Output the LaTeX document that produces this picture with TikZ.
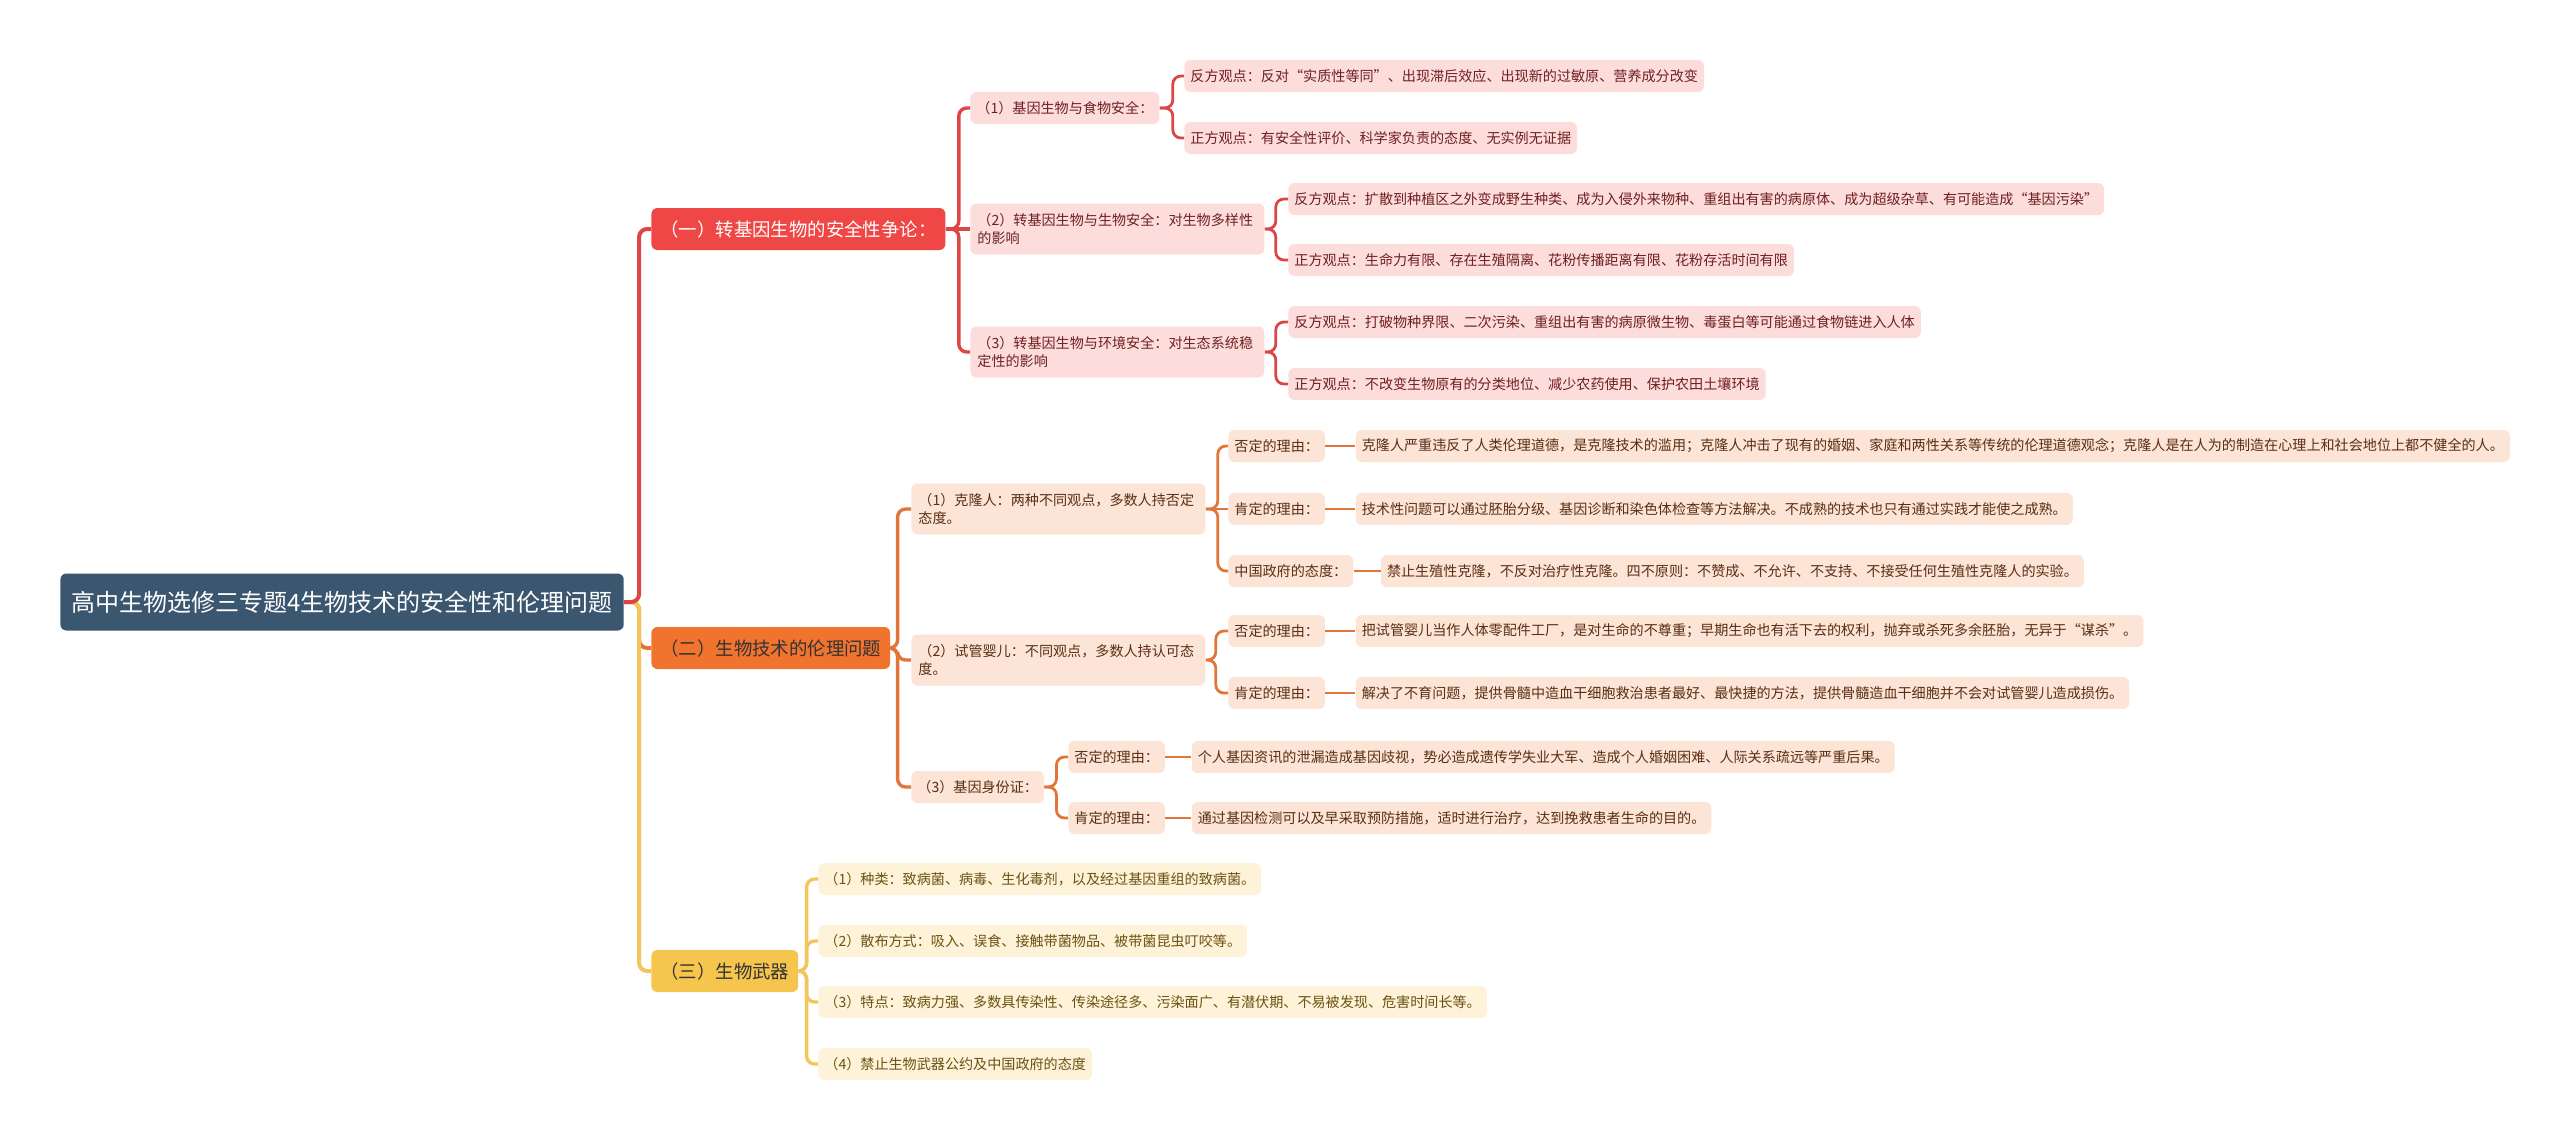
\documentclass[tikz,border=0pt]{standalone}
\usepackage{fontspec}
\setmainfont{Noto Sans CJK SC}
\usetikzlibrary{positioning}

\definecolor{rootblue}{HTML}{3B566F}
\definecolor{hubred}{HTML}{EF4646}
\definecolor{linered}{HTML}{DC4646}
\definecolor{pinkfill}{HTML}{FDDCDC}
\definecolor{pinktext}{HTML}{6E2020}
\definecolor{huborange}{HTML}{F0732E}
\definecolor{lineorange}{HTML}{E2763A}
\definecolor{peachfill}{HTML}{FCE4D6}
\definecolor{peachtext}{HTML}{5A2E14}
\definecolor{hubyellow}{HTML}{F6C54E}
\definecolor{lineyellow}{HTML}{F4C55C}
\definecolor{creamfill}{HTML}{FEF3D9}
\definecolor{creamtext}{HTML}{6B5212}

\begin{document}
\begin{tikzpicture}[
  x=0.5pt, y=-0.5pt,
  card/.style={rounded corners=3pt,inner xsep=3pt,inner ysep=0pt,minimum height=16pt,anchor=west,
               font=\fontsize{7.05}{9}\selectfont},
  twoline/.style={card,text width=140pt,align=left,minimum height=25.5pt,inner xsep=3.5pt},
  rootnode/.style={card,fill=rootblue,text=white,minimum height=28.5pt,inner xsep=5.5pt,
                   font=\fontsize{12}{14}\selectfont},
  hub/.style={card,minimum height=21pt,inner xsep=4.5pt,font=\fontsize{9.2}{11}\selectfont},
  pink/.style={card,fill=pinkfill,text=pinktext},
  peach/.style={card,fill=peachfill,text=peachtext},
  cream/.style={card,fill=creamfill,text=creamtext},
  redlink/.style={draw=linered,line width=1.7pt,rounded corners=4pt},
  orangelink/.style={draw=lineorange,line width=1.7pt,rounded corners=4pt},
  yellowlink/.style={draw=lineyellow,line width=1.7pt,rounded corners=4pt},
]
  \useasboundingbox (0,0) rectangle (2560,1142);

  % root and main branches
  \node[rootnode] (root) at (60,602) {高中生物选修三专题4生物技术的安全性和伦理问题};
  \node[hub,fill=hubred,text=white] (safe) at (651,229) {（一）转基因生物的安全性争论：};
  \node[hub,fill=huborange,text=black!80] (ethic) at (651,648) {（二）生物技术的伦理问题};
  \node[hub,fill=hubyellow,text=black!80] (weapon) at (651,971) {（三）生物武器};

  % (一)
  \node[pink] (food) at (970,108) {（1）基因生物与食物安全：};
  \node[pink,twoline] (bio) at (970,229) {（2）转基因生物与生物安全：对生物多样性\\的影响};
  \node[pink,twoline] (env) at (970,352) {（3）转基因生物与环境安全：对生态系统稳\\定性的影响};
  \node[pink] (foodcon) at (1184,76) {反方观点：反对“实质性等同”、出现滞后效应、出现新的过敏原、营养成分改变};
  \node[pink] (foodpro) at (1184,138) {正方观点：有安全性评价、科学家负责的态度、无实例无证据};
  \node[pink] (biocon) at (1288,199) {反方观点：扩散到种植区之外变成野生种类、成为入侵外来物种、重组出有害的病原体、成为超级杂草、有可能造成“基因污染”};
  \node[pink] (biopro) at (1288,260) {正方观点：生命力有限、存在生殖隔离、花粉传播距离有限、花粉存活时间有限};
  \node[pink] (envcon) at (1288,322) {反方观点：打破物种界限、二次污染、重组出有害的病原微生物、毒蛋白等可能通过食物链进入人体};
  \node[pink] (envpro) at (1288,384) {正方观点：不改变生物原有的分类地位、减少农药使用、保护农田土壤环境};

  % (二)
  \node[peach,twoline] (clone) at (911,509) {（1）克隆人：两种不同观点，多数人持否定\\态度。};
  \node[peach,twoline] (ivf) at (911,660) {（2）试管婴儿：不同观点，多数人持认可态\\度。};
  \node[peach] (geneid) at (911,787) {（3）基因身份证：};

  \node[peach] (clonen) at (1228,446) {否定的理由：};
  \node[peach] (clonep) at (1228,509) {肯定的理由：};
  \node[peach] (cloneg) at (1228,571) {中国政府的态度：};
  \node[peach,right=15pt of clonen] (clonentx) {克隆人严重违反了人类伦理道德，是克隆技术的滥用；克隆人冲击了现有的婚姻、家庭和两性关系等传统的伦理道德观念；克隆人是在人为的制造在心理上和社会地位上都不健全的人。};
  \node[peach,right=15pt of clonep] (cloneptx) {技术性问题可以通过胚胎分级、基因诊断和染色体检查等方法解决。不成熟的技术也只有通过实践才能使之成熟。};
  \node[peach,right=13.5pt of cloneg] (clonegtx) {禁止生殖性克隆，不反对治疗性克隆。四不原则：不赞成、不允许、不支持、不接受任何生殖性克隆人的实验。};

  \node[peach] (ivfn) at (1228,631) {否定的理由：};
  \node[peach] (ivfp) at (1228,693) {肯定的理由：};
  \node[peach,right=15pt of ivfn] (ivfntx) {把试管婴儿当作人体零配件工厂，是对生命的不尊重；早期生命也有活下去的权利，抛弃或杀死多余胚胎，无异于“谋杀”。};
  \node[peach,right=15pt of ivfp] (ivfptx) {解决了不育问题，提供骨髓中造血干细胞救治患者最好、最快捷的方法，提供骨髓造血干细胞并不会对试管婴儿造成损伤。};

  \node[peach] (geneidn) at (1068,757) {否定的理由：};
  \node[peach] (geneidp) at (1068,818) {肯定的理由：};
  \node[peach,right=13pt of geneidn] (geneidntx) {个人基因资讯的泄漏造成基因歧视，势必造成遗传学失业大军、造成个人婚姻困难、人际关系疏远等严重后果。};
  \node[peach,right=13pt of geneidp] (geneidptx) {通过基因检测可以及早采取预防措施，适时进行治疗，达到挽救患者生命的目的。};

  % (三)
  \node[cream] (kind) at (818,879) {（1）种类：致病菌、病毒、生化毒剂，以及经过基因重组的致病菌。};
  \node[cream] (spread) at (818,941) {（2）散布方式：吸入、误食、接触带菌物品、被带菌昆虫叮咬等。};
  \node[cream] (trait) at (818,1002) {（3）特点：致病力强、多数具传染性、传染途径多、污染面广、有潜伏期、不易被发现、危害时间长等。};
  \node[cream] (ban) at (818,1064) {（4）禁止生物武器公约及中国政府的态度};

  % connectors
  \draw[orangelink,line width=2pt] (root.east) -- ++(15,0) |- (ethic.west);
  \draw[yellowlink,line width=2pt] (root.east) -- ++(15,0) |- (weapon.west);
  \draw[redlink,line width=2pt] (root.east) -- ++(15,0) |- (safe.west);

  \draw[redlink] (safe.east) -- (bio.west);
  \foreach \c in {food,env} \draw[redlink] (safe.east) -- ++(13,0) |- (\c.west);
  \foreach \c in {foodcon,foodpro} \draw[redlink,line width=1.4pt] (food.east) -- ++(13,0) |- (\c.west);
  \foreach \c in {biocon,biopro} \draw[redlink,line width=1.4pt] (bio.east) -- ++(11,0) |- (\c.west);
  \foreach \c in {envcon,envpro} \draw[redlink,line width=1.4pt] (env.east) -- ++(11,0) |- (\c.west);

  \foreach \c in {clone,ivf,geneid} \draw[orangelink] (ethic.east) -- ++(7,0) |- (\c.west);
  \draw[orangelink,line width=1.4pt] (clone.east) -- (clonep.west);
  \foreach \c in {clonen,cloneg} \draw[orangelink,line width=1.4pt] (clone.east) -- ++(12,0) |- (\c.west);
  \foreach \c in {ivfn,ivfp} \draw[orangelink,line width=1.4pt] (ivf.east) -- ++(10,0) |- (\c.west);
  \foreach \c in {geneidn,geneidp} \draw[orangelink,line width=1.4pt] (geneid.east) -- ++(12,0) |- (\c.west);
  \foreach \a/\b in {clonen/clonentx,clonep/cloneptx,cloneg/clonegtx,ivfn/ivfntx,ivfp/ivfptx,geneidn/geneidntx,geneidp/geneidptx}
    \draw[orangelink,line width=1.4pt] (\a.east) -- (\b.west);

  \foreach \c in {kind,spread,trait,ban} \draw[yellowlink] (weapon.east) -- ++(8,0) |- (\c.west);
\end{tikzpicture}
\end{document}
